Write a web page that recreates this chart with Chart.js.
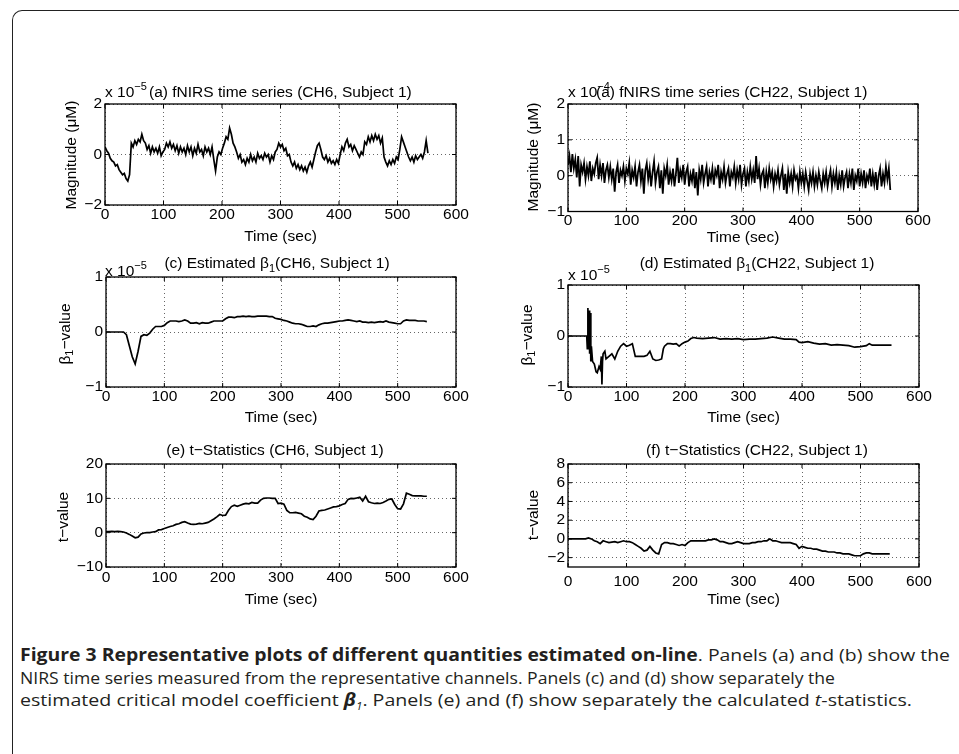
<!DOCTYPE html>
<html>
<head>
<meta charset="utf-8">
<script src="https://cdn.jsdelivr.net/npm/chart.js@4.4.1/dist/chart.umd.min.js"></script>
<style>
  html, body { margin: 0; padding: 0; background: #fff; overflow: hidden; }
  body { width: 959px; height: 754px; position: relative; }
  #frame { position: absolute; left: 12px; top: 10px; width: 1000px; height: 800px;
           border-top: 1.5px solid #222; border-left: 1.5px solid #222; border-top-left-radius: 10px; }
  canvas.panel { position: absolute; }
  #caption { position: absolute; left: 20px; top: 644px; font-family: "Open Sans", "Noto Sans", sans-serif;
             font-size: 17px; line-height: 22.5px; color: #231f20; }
  #caption .ln { white-space: nowrap; transform-origin: 0 0; width: max-content; height: 22.5px; }
  #caption sub { font-size: 10px; line-height: 0; }
</style>
</head>
<body>
<div id="frame"></div>
<canvas class="panel" id="chA"></canvas>
<canvas class="panel" id="chB"></canvas>
<canvas class="panel" id="chC"></canvas>
<canvas class="panel" id="chD"></canvas>
<canvas class="panel" id="chE"></canvas>
<canvas class="panel" id="chF"></canvas>
<div id="caption">
  <div class="ln"><b>Figure 3 Representative plots of different quantities estimated on-line</b>. Panels (a) and (b) show the</div>
  <div class="ln">NIRS time series measured from the representative channels. Panels (c) and (d) show separately the</div>
  <div class="ln">estimated critical model coefficient <i><b>β</b><sub>1</sub></i>. Panels (e) and (f) show separately the calculated <i>t</i>-statistics.</div>
</div>
<script>
// x axis ticks, shared by all panels (seconds)
const xTicks = [0, 100, 200, 300, 400, 500, 600];

// (a) fNIRS time series CH6, one sample every 3 s, in units of 1e-5
const fnirsCh6Step = 3;
const fnirsCh6 = [
  0.3, 0.15, 0.05, -0.15, -0.25, -0.3, -0.45, -0.4, -0.6, -0.7,
  -0.8, -0.75, -0.95, -1.05, -0.8, 0.45, 0.3, 0.55, 0.4, 0.6,
  0.5, 0.8, 0.55, 0.45, 0.2, 0.35, 0.05, 0.3, 0.1, 0.25,
  0.05, 0.3, -0.05, 0.1, 0.2, 0.45, 0.3, 0.5, 0.25, 0.4,
  0.15, 0.35, 0.05, 0.3, 0.1, 0.25, 0.0, 0.35, 0.1, 0.3,
  -0.05, 0.25, 0.05, 0.4, 0.1, 0.2, -0.05, 0.3, 0.1, 0.25,
  0.0, 0.3, -0.2, -0.65, -0.1, 0.1, 0.0, 0.25, 0.45, 0.7,
  0.6, 1.05, 0.8, 0.45, 0.3, 0.1, -0.15, 0.0, -0.3, -0.2,
  -0.4, -0.15, -0.3, 0.0, -0.25, -0.1, -0.3, 0.05, -0.15, -0.05,
  -0.2, 0.05, -0.1, 0.0, -0.3, -0.05, -0.2, 0.1, 0.2, 0.45,
  0.3, 0.4, 0.15, 0.25, -0.05, 0.0, -0.3, -0.45, -0.3, -0.55,
  -0.4, -0.6, -0.45, -0.65, -0.5, -0.7, -0.45, -0.3, -0.5, -0.2,
  0.1, 0.35, 0.45, 0.2, -0.1, -0.2, -0.05, -0.3, -0.15, -0.35,
  -0.25, -0.4, -0.2, -0.35, 0.0, 0.3, 0.15, 0.45, 0.6, 0.3,
  0.4, 0.15, 0.35, 0.2, 0.05, -0.1, 0.1, 0.0, 0.5, 0.4,
  0.7, 0.5, 0.75, 0.55, 0.8, 0.6, 0.75, 0.45, 0.65, -0.1,
  -0.3, -0.45, -0.25, -0.4, -0.2, -0.35, -0.1, -0.2, 0.2, 0.7,
  0.5, 0.3, 0.1, -0.1, -0.25, -0.1, -0.3, -0.05, -0.2, -0.1,
  0.0, -0.15, 0.1, 0.55, 0.05
];

// (b) fNIRS time series CH22, one sample every 2.5 s, in units of 1e-4
const fnirsCh22Step = 2.5;
const fnirsCh22 = [
  0.3, 0.55, 0.1, 0.6, 0.2, 0.45, -0.05, 0.55, -0.3, 0.3,
  0.1, 0.35, -0.1, 0.25, 0.0, 0.4, -0.15, 0.2, 0.05, 0.35,
  0.5, -0.1, 0.3, 0.0, 0.35, -0.2, 0.15, 0.3, -0.05, 0.25,
  -0.1, 0.2, -0.45, 0.1, 0.3, -0.2, 0.15, 0.0, 0.25, -0.15,
  0.2, 0.05, 0.35, -0.25, 0.15, -0.05, 0.25, -0.3, 0.1, 0.3,
  -0.15, 0.2, -0.5, 0.15, 0.35, -0.1, 0.2, -0.3, 0.1, 0.4,
  -0.2, 0.1, 0.25, -0.35, 0.15, -0.5, 0.2, 0.0, 0.3, -0.25,
  0.1, -0.15, 0.2, -0.3, 0.05, 0.5, -0.2, 0.15, -0.05, 0.3,
  -0.25, 0.1, 0.25, -0.3, 0.05, -0.15, 0.2, -0.35, 0.1, -0.55,
  0.15, -0.1, 0.3, -0.2, 0.05, 0.25, -0.3, 0.1, -0.1, 0.2,
  -0.25, 0.15, 0.0, 0.3, -0.35, 0.1, -0.1, 0.25, -0.2, 0.05,
  0.2, -0.3, 0.1, -0.05, 0.25, -0.2, 0.15, -0.1, 0.3, -0.25,
  0.05, 0.2, -0.3, 0.1, -0.15, 0.25, -0.1, 0.15, -0.2, 0.55,
  -0.1, 0.2, -0.25, 0.05, 0.15, -0.35, 0.1, -0.2, 0.2, -0.1,
  0.1, -0.3, 0.05, -0.15, 0.15, -0.25, 0.0, 0.2, -0.4, 0.05,
  -0.5, 0.1, -0.2, 0.05, -0.3, 0.15, -0.1, 0.0, -0.35, 0.1,
  -0.2, 0.05, -0.3, 0.1, -0.15, -0.4, 0.05, -0.2, 0.1, -0.3,
  0.0, -0.25, 0.1, -0.15, -0.35, 0.05, -0.2, 0.1, -0.3, -0.05,
  0.15, -0.3, 0.05, -0.2, 0.1, -0.4, 0.0, -0.25, 0.15, -0.3,
  -0.05, 0.1, -0.35, 0.05, -0.2, 0.2, -0.4, 0.0, -0.15, 0.2,
  -0.3, 0.05, -0.2, 0.15, -0.35, 0.0, -0.15, 0.2, -0.3, 0.05,
  -0.25, 0.1, -0.4, 0.0, 0.2, -0.3, 0.05, -0.2, 0.25, -0.1,
  0.2, -0.4
];

// (c) estimated beta1 CH6, every 5 s, in units of 1e-5
const beta1Ch6Step = 5;
const beta1Ch6 = [
  0, 0, 0, 0, 0, 0, 0, -0.05, -0.25, -0.45,
  -0.58, -0.35, -0.08, -0.05, -0.06, -0.02, 0.05, 0.1, 0.1, 0.1,
  0.12, 0.17, 0.2, 0.2, 0.2, 0.19, 0.2, 0.22, 0.2, 0.16,
  0.16, 0.17, 0.15, 0.17, 0.16, 0.16, 0.18, 0.2, 0.2, 0.2,
  0.2, 0.24, 0.27, 0.27, 0.26, 0.28, 0.28, 0.29, 0.28, 0.29,
  0.28, 0.28, 0.29, 0.29, 0.29, 0.29, 0.28, 0.28, 0.25, 0.24,
  0.23, 0.21, 0.2, 0.18, 0.16, 0.15, 0.15, 0.14, 0.12, 0.1,
  0.1, 0.11, 0.1, 0.13, 0.15, 0.16, 0.16, 0.17, 0.18, 0.19,
  0.2, 0.2, 0.21, 0.22, 0.21, 0.2, 0.19, 0.2, 0.18, 0.18,
  0.17, 0.18, 0.17, 0.18, 0.19, 0.18, 0.2, 0.18, 0.17, 0.16,
  0.15, 0.15, 0.2, 0.22, 0.21, 0.21, 0.21, 0.2, 0.2, 0.2,
  0.19
];

// (d) estimated beta1 CH22, in units of 1e-5 (uneven sampling to keep the early spikes)
const beta1Ch22Time = [
  0, 30, 32, 33, 34, 35, 36, 37, 38, 39,
  40, 42, 45, 48, 50, 53, 55, 57, 58, 59,
  60, 63, 65, 70, 75, 80, 85, 90, 95, 100,
  105, 110, 115, 120, 125, 130, 135, 140, 145, 150,
  155, 160, 163, 165, 170, 175, 180, 185, 190, 195,
  200, 205, 210, 215, 220, 230, 240, 250, 260, 270,
  280, 290, 300, 310, 320, 330, 340, 350, 360, 370,
  380, 390, 395, 400, 410, 420, 430, 440, 450, 460,
  470, 480, 490, 500, 510, 515, 520, 530, 540, 553
];
const beta1Ch22 = [
  0, 0, 0, -0.25, 0.55, -0.2, 0.5, -0.35, 0.45, -0.5,
  -0.2, -0.5, -0.55, -0.7, -0.72, -0.6, -0.65, -0.4, -0.95, -0.5,
  -0.35, -0.3, -0.45, -0.4, -0.35, -0.45, -0.3, -0.2, -0.15, -0.2,
  -0.18, -0.15, -0.4, -0.4, -0.4, -0.4, -0.38, -0.3, -0.45, -0.48,
  -0.47, -0.45, -0.25, -0.2, -0.15, -0.15, -0.16, -0.15, -0.2, -0.15,
  -0.12, -0.1, -0.05, -0.03, -0.04, -0.05, -0.04, -0.03, -0.06, -0.05,
  -0.06, -0.05, -0.07, -0.06, -0.06, -0.05, -0.04, -0.02, -0.04, -0.06,
  -0.06, -0.07, -0.12, -0.13, -0.11, -0.14, -0.16, -0.15, -0.18, -0.17,
  -0.18, -0.19, -0.22, -0.21, -0.19, -0.15, -0.18, -0.18, -0.18, -0.18
];

// (e) t-statistics CH6, every 5 s
const tStatCh6Step = 5;
const tStatCh6 = [
  0.3, 0.3, 0.4, 0.3, 0.4, 0.3, 0.2, -0.1, -0.5, -1.0,
  -1.5, -1.3, -0.4, -0.1, 0.0, 0.0, 0.2, 0.3, 0.8, 0.9,
  1.2, 1.5, 1.8, 2.0, 2.4, 2.6, 3.0, 3.2, 2.8, 2.5,
  2.4, 2.5, 2.7, 2.6, 2.8, 3.0, 3.5, 4.0, 4.6, 5.3,
  5.0, 5.1, 6.5, 7.6, 8.0, 7.7, 8.0, 8.3, 8.5, 8.4,
  8.8, 8.6, 8.6, 9.5, 10.0, 10.1, 10.1, 10.0, 10.0, 8.5,
  8.6, 8.3, 6.5, 5.8, 5.8, 5.9, 5.7, 5.5, 4.8, 4.5,
  4.0, 3.8, 4.8, 6.3, 6.5, 6.6, 6.9, 7.2, 7.5, 7.6,
  7.8, 8.2, 8.5, 9.7, 10.0, 9.9, 10.1, 10.3, 9.2, 10.6,
  9.0, 8.7, 8.5, 8.6, 8.5, 8.8, 9.2, 9.7, 9.8, 8.2,
  7.0, 6.9, 8.4, 11.5, 11.2, 10.8, 10.7, 10.7, 10.7, 10.6,
  10.6
];

// (f) t-statistics CH22, every 5 s
const tStatCh22Step = 5;
const tStatCh22 = [
  0, 0, 0, 0, 0, 0, 0, 0.1, 0, -0.2,
  -0.3, -0.5, -0.2, -0.3, -0.4, -0.35, -0.3, -0.4, -0.3, -0.2,
  -0.3, -0.3, -0.4, -0.6, -0.8, -1.0, -1.3, -1.2, -0.8, -1.2,
  -1.5, -1.6, -0.6, -0.4, -0.4, -0.5, -0.5, -0.6, -0.7, -0.6,
  -0.7, -0.4, -0.2, -0.2, -0.2, -0.2, -0.2, -0.2, -0.1, -0.1,
  0.0, -0.1, -0.3, -0.3, -0.4, -0.5, -0.5, -0.4, -0.3, -0.4,
  -0.5, -0.5, -0.5, -0.4, -0.4, -0.3, -0.3, -0.2, -0.2, 0.0,
  -0.2, -0.2, -0.3, -0.4, -0.4, -0.4, -0.4, -0.5, -0.6, -1.0,
  -0.8, -0.9, -1.0, -1.0, -1.1, -1.1, -1.2, -1.3, -1.3, -1.4,
  -1.4, -1.4, -1.5, -1.5, -1.6, -1.6, -1.6, -1.7, -1.8, -1.8,
  -1.8, -1.6, -1.5, -1.5, -1.6, -1.6, -1.6, -1.6, -1.6, -1.6,
  -1.6
];

// y axis ticks per panel
const yTicksA = [-2, 0, 2];
const yTicksB = [-1, 0, 1, 2];
const yTicksC = [-1, 0, 1];
const yTicksD = [-1, 0, 1];
const yTicksE = [-10, 0, 10, 20];
const yTicksF = [-2, 0, 2, 4, 6, 8];

const FONT = '"Liberation Sans", Arial, Helvetica, sans-serif';
const FS = 15.5;
Chart.defaults.font.family = FONT;
Chart.defaults.font.size = FS;
Chart.defaults.color = '#000';

const seq = (n, step) => Array.from({ length: n }, (_, i) => i * step);
const minus = s => String(s).replace('-', '\u2212');

// draw text made of parts: [text, 'sub' | 'sup' | undefined]
function richWidth(ctx, parts) {
  let w = 0;
  parts.forEach(([t, k]) => {
    ctx.font = (k ? 11 : FS) + 'px ' + FONT;
    w += ctx.measureText(t).width;
  });
  return w;
}
function drawRich(ctx, parts, x, y, align) {
  let cx = align === 'center' ? x - richWidth(ctx, parts) / 2 : x;
  parts.forEach(([t, k]) => {
    ctx.font = (k ? 11 : FS) + 'px ' + FONT;
    const dy = k === 'sub' ? 4 : k === 'sup' ? -7 : 0;
    ctx.fillText(t, cx, y + dy);
    cx += ctx.measureText(t).width;
  });
}

const panels = [
  { id: 'chA', box: [40, 70, 440, 180], plot: [105, 104, 456, 205],
    x: seq(fnirsCh6.length, fnirsCh6Step), y: fnirsCh6, yMin: -2, yMax: 2, yTicks: yTicksA, xPad: 0, lw: 1.7,
    exp: [105, 97, '-5'], title: [149, 97, 'left', [['(a) fNIRS time series (CH6, Subject 1)']]],
    yLabel: [72, 155, [['Magnitude (\u03bcM)']]], xLabelY: 237 },
  { id: 'chB', box: [500, 70, 455, 180], plot: [568, 104, 918, 211.5],
    x: seq(fnirsCh22.length, fnirsCh22Step), y: fnirsCh22, yMin: -1, yMax: 2, yTicks: yTicksB, xPad: 0, lw: 1.8,
    exp: [568, 97, '-4'], title: [596, 97, 'left', [['(a) fNIRS time series (CH22, Subject 1)']]],
    yLabel: [533.5, 157, [['Magnitude (\u03bcM)']]], xLabelY: 238 },
  { id: 'chC', box: [40, 250, 440, 175], plot: [106, 277, 456, 387],
    x: seq(beta1Ch6.length, beta1Ch6Step), y: beta1Ch6, yMin: -1, yMax: 1, yTicks: yTicksC, xPad: 0, lw: 1.7,
    exp: [105, 276, '-5'], title: [277, 268, 'center', [['(c) Estimated \u03b2'], ['1', 'sub'], ['(CH6, Subject 1)']]],
    yLabel: [66, 334, [['\u03b2'], ['1', 'sub'], ['\u2212value']]], xLabelY: 418 },
  { id: 'chD', box: [500, 250, 455, 175], plot: [568, 285, 919, 387],
    x: beta1Ch22Time, y: beta1Ch22, yMin: -1, yMax: 1, yTicks: yTicksD, xPad: 0, lw: 1.7,
    exp: [568, 280, '-5'], title: [757, 268, 'center', [['(d) Estimated \u03b2'], ['1', 'sub'], ['(CH22, Subject 1)']]],
    yLabel: [528, 335, [['\u03b2'], ['1', 'sub'], ['\u2212value']]], xLabelY: 418 },
  { id: 'chE', box: [40, 430, 440, 180], plot: [106, 464, 456, 567],
    x: seq(tStatCh6.length, tStatCh6Step), y: tStatCh6, yMin: -10, yMax: 20, yTicks: yTicksE, xPad: 1, lw: 1.7,
    exp: null, title: [275, 455, 'center', [['(e) t\u2212Statistics (CH6, Subject 1)']]],
    yLabel: [64, 517, [['t\u2212value']]], xLabelY: 600 },
  { id: 'chF', box: [500, 430, 455, 180], plot: [568, 464, 919, 567],
    x: seq(tStatCh22.length, tStatCh22Step), y: tStatCh22, yMin: -3, yMax: 8, yTicks: yTicksF, xPad: 5, lw: 1.7,
    exp: null, title: [757, 455, 'center', [['(f) t\u2212Statistics (CH22, Subject 1)']]],
    yLabel: [534, 515, [['t\u2212value']]], xLabelY: 600 }
];

function decoPlugin(p) {
  return {
    id: 'deco',
    afterDraw(chart) {
      const ctx = chart.ctx, a = chart.chartArea;
      const xs = chart.scales.x, ys = chart.scales.y;
      const ox = p.box[0], oy = p.box[1];
      ctx.save();
      // axes box with inward ticks
      ctx.strokeStyle = '#000';
      ctx.lineWidth = 1.3;
      ctx.strokeRect(a.left, a.top, a.right - a.left, a.bottom - a.top);
      ctx.lineWidth = 1;
      ctx.beginPath();
      xTicks.forEach(v => {
        const px = xs.getPixelForValue(v);
        ctx.moveTo(px, a.bottom); ctx.lineTo(px, a.bottom - 4);
        ctx.moveTo(px, a.top); ctx.lineTo(px, a.top + 4);
      });
      p.yTicks.forEach(v => {
        const py = ys.getPixelForValue(v);
        ctx.moveTo(a.left, py); ctx.lineTo(a.left + 4, py);
        ctx.moveTo(a.right, py); ctx.lineTo(a.right - 4, py);
      });
      ctx.stroke();
      // texts
      ctx.fillStyle = '#000';
      ctx.textBaseline = 'alphabetic';
      ctx.textAlign = 'left';
      if (p.exp) drawRich(ctx, [['x 10'], [minus(p.exp[2]), 'sup']], p.exp[0] - ox, p.exp[1] - oy, 'left');
      const t = p.title;
      drawRich(ctx, t[3], t[0] - ox, t[1] - oy, t[2]);
      ctx.textBaseline = 'middle';
      ctx.font = FS + 'px ' + FONT;
      ctx.textAlign = 'center';
      ctx.fillText('Time (sec)', (a.left + a.right) / 2, p.xLabelY - oy);
      ctx.save();
      ctx.translate(p.yLabel[0] - ox, p.yLabel[1] - oy);
      ctx.rotate(-Math.PI / 2);
      ctx.textAlign = 'left';
      drawRich(ctx, p.yLabel[2], 0, 0, 'center');
      ctx.restore();
      ctx.restore();
    }
  };
}

function makePanel(p) {
  const cv = document.getElementById(p.id);
  cv.width = p.box[2];
  cv.height = p.box[3];
  cv.style.left = p.box[0] + 'px';
  cv.style.top = p.box[1] + 'px';
  const points = p.y.map((v, i) => ({ x: p.x[i], y: v }));
  const gridOpts = { color: '#555', lineWidth: 0.9, drawTicks: false };
  new Chart(cv, {
    type: 'line',
    data: {
      datasets: [{ data: points, borderColor: '#000', borderWidth: p.lw, pointRadius: 0, tension: 0, fill: false }]
    },
    options: {
      responsive: false,
      animation: false,
      events: [],
      layout: { padding: { left: 0, bottom: 0, top: p.plot[1] - p.box[1], right: p.box[0] + p.box[2] - p.plot[2] } },
      plugins: { legend: { display: false }, tooltip: { enabled: false }, title: { display: false } },
      scales: {
        x: {
          type: 'linear', min: 0, max: 600,
          afterBuildTicks: s => { s.ticks = xTicks.map(v => ({ value: v })); },
          afterFit: s => { s.height = p.box[1] + p.box[3] - p.plot[3]; },
          grid: gridOpts,
          border: { display: false, dash: [1, 3] },
          ticks: { padding: p.xPad, maxRotation: 0, autoSkip: false, callback: v => minus(v) }
        },
        y: {
          type: 'linear', min: p.yMin, max: p.yMax,
          afterBuildTicks: s => { s.ticks = p.yTicks.map(v => ({ value: v })); },
          afterFit: s => { s.width = p.plot[0] - p.box[0]; },
          grid: gridOpts,
          border: { display: false, dash: [1, 3] },
          ticks: { padding: 3, autoSkip: false, callback: v => minus(v) }
        }
      }
    },
    plugins: [decoPlugin(p)]
  });
}

panels.forEach(makePanel);

// stretch caption lines to the widths they have in the figure
const captionWidths = [930, 815, 892];
document.querySelectorAll('#caption .ln').forEach((el, i) => {
  const w = el.getBoundingClientRect().width;
  el.style.transform = 'scaleX(' + (captionWidths[i] / w).toFixed(4) + ')';
});
</script>
</body>
</html>
